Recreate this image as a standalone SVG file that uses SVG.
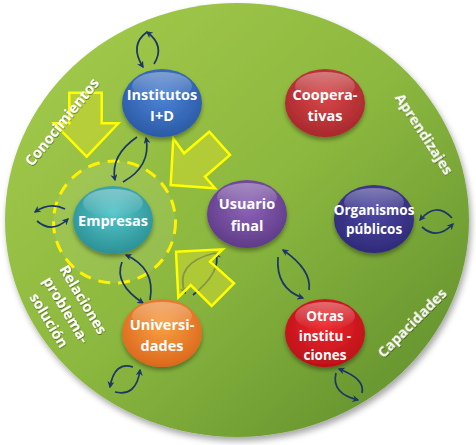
<svg xmlns="http://www.w3.org/2000/svg" width="476" height="445" viewBox="0 0 476 445">
<defs>
<linearGradient id="bg" x1="0" y1="0" x2="1" y2="1">
<stop offset="0" stop-color="#a6cc4c"/>
<stop offset="0.5" stop-color="#8cb83f"/>
<stop offset="1" stop-color="#5b8a2b"/>
</linearGradient>
<radialGradient id="gBlue" cx="0.5" cy="0.4" r="0.6"><stop offset="0" stop-color="#4d84d6"/><stop offset="1" stop-color="#2a5aa6"/></radialGradient>
<radialGradient id="gCoop" cx="0.5" cy="0.4" r="0.6"><stop offset="0" stop-color="#d9474a"/><stop offset="1" stop-color="#a8282c"/></radialGradient>
<radialGradient id="gTeal" cx="0.5" cy="0.4" r="0.6"><stop offset="0" stop-color="#55c6ca"/><stop offset="1" stop-color="#2b9196"/></radialGradient>
<radialGradient id="gPurp" cx="0.5" cy="0.4" r="0.6"><stop offset="0" stop-color="#8d63b8"/><stop offset="1" stop-color="#5f3b88"/></radialGradient>
<radialGradient id="gInd" cx="0.5" cy="0.4" r="0.6"><stop offset="0" stop-color="#4d47a3"/><stop offset="1" stop-color="#2f2a7a"/></radialGradient>
<radialGradient id="gOra" cx="0.5" cy="0.4" r="0.6"><stop offset="0" stop-color="#f8a043"/><stop offset="1" stop-color="#dc681c"/></radialGradient>
<radialGradient id="gRed" cx="0.5" cy="0.4" r="0.6"><stop offset="0" stop-color="#f0282e"/><stop offset="1" stop-color="#bb1018"/></radialGradient>
<linearGradient id="gloss" x1="0" y1="0" x2="0" y2="1">
<stop offset="0" stop-color="#ffffff" stop-opacity="0.35"/>
<stop offset="1" stop-color="#ffffff" stop-opacity="0"/>
</linearGradient>
<filter id="sh" x="-20%" y="-20%" width="140%" height="150%">
<feDropShadow dx="0" dy="3" stdDeviation="2" flood-color="#000" flood-opacity="0.35"/>
</filter>
<filter id="bigsh" x="-5%" y="-5%" width="110%" height="112%">
<feDropShadow dx="2" dy="4" stdDeviation="3" flood-color="#000" flood-opacity="0.35"/>
</filter>
<filter id="tsh" x="-10%" y="-20%" width="120%" height="140%">
<feDropShadow dx="0.5" dy="1" stdDeviation="0.6" flood-color="#000" flood-opacity="0.4"/>
</filter>
<marker id="ah" viewBox="0 0 10 10" refX="8" refY="5" markerWidth="7" markerHeight="7" markerUnits="userSpaceOnUse" orient="auto">
<path d="M0,0 L10,5 L0,10 L3,5 z" fill="#1c3668"/>
</marker>
<style>
.node text{font-family:"Open Sans","Liberation Sans",sans-serif;font-weight:bold;font-size:14.5px;fill:#fff;text-anchor:middle}
.lbl{font-family:"Open Sans","Liberation Sans",sans-serif;font-weight:bold;font-size:14.5px;fill:#fff;text-anchor:middle}
.con path{fill:none;stroke:#1c3668;stroke-width:1.7;marker-end:url(#ah)}
.ya{fill:#c8d630;fill-opacity:0.6;stroke:#ffff00;stroke-width:2.5;stroke-linejoin:miter}
.gl{fill:url(#gloss)}
</style>
</defs>
<rect width="476" height="445" fill="#fff"/>
<ellipse cx="237" cy="220" rx="232" ry="217" fill="url(#bg)" filter="url(#bigsh)"/>
<circle id="empresas-ring" cx="114.5" cy="222" r="61" fill="#ffffff" fill-opacity="0.08" stroke="#fff200" stroke-width="3" stroke-dasharray="12 8"/>
<g id="connectors" class="con">
<path d="M147,32 Q129,45 143,67"/>
<path d="M154,64 Q165.5,46 147,32"/>
<path d="M137,137 Q110,155.5 115,180"/>
<path d="M123,182 Q151.5,166 146,138"/>
<path d="M65,209 Q50,201.5 35,212"/>
<path d="M37,221 Q52,234 68,219"/>
<path d="M122,262 Q113.5,283.5 143,303"/>
<path d="M150,300 Q156,268.5 126,255"/>
<path d="M133,367 Q114.5,361 110,387"/>
<path d="M115,392 Q136.5,397 140,370"/>
<path d="M452,218 Q436,201 420,220"/>
<path d="M422,227 Q437,240.5 453,224"/>
<path d="M278,257 Q275.5,288.5 303,298"/>
<path d="M309,290 Q312,270 283,250"/>
<path d="M336,373 Q331,393.5 358,400"/>
<path d="M362,393 Q365.5,379 339,369"/>
<path d="M215,253 Q174,263 185,293"/>
<path d="M193,295 Q221.5,272 216,253"/>
</g>
<g id="arrows">
<polygon id="arrow-conocimientos" class="ya" points="69.3,92.7 101.7,92.7 101.7,123.3 118.3,123.3 86.7,156.7 54,123.3 69.3,123.3"/>
<polygon id="arrow-usuario" class="ya" points="170.7,185 173.3,138.3 184,153.3 209.3,131.7 230,155 205,176.7 215,188.3"/>
<polygon id="arrow-universidades" class="ya" points="176,251.7 222.7,249.3 210,261.7 234,283.3 211.7,306 190.7,285 178.3,297.3"/>
</g>
<g id="institutos" class="node">
<ellipse cx="162" cy="103" rx="40" ry="34" fill="url(#gBlue)" filter="url(#sh)"/>
<ellipse class="gl" cx="162" cy="86" rx="30" ry="14"/>
<text x="162" y="100">Institutos</text>
<text x="162" y="121">I+D</text>
</g>
<g id="cooperativas" class="node">
<ellipse cx="325" cy="103" rx="40" ry="34" fill="url(#gCoop)" filter="url(#sh)"/>
<ellipse class="gl" cx="325" cy="86" rx="30" ry="14"/>
<text x="325" y="100">Coopera-</text>
<text x="325" y="121">tivas</text>
</g>
<g id="empresas" class="node">
<ellipse cx="113" cy="220" rx="40" ry="34" fill="url(#gTeal)" filter="url(#sh)"/>
<ellipse class="gl" cx="113" cy="203" rx="30" ry="14"/>
<text x="113" y="226">Empresas</text>
</g>
<g id="usuario-final" class="node">
<ellipse cx="247" cy="214" rx="40" ry="34" fill="url(#gPurp)" filter="url(#sh)"/>
<ellipse class="gl" cx="247" cy="197" rx="30" ry="14"/>
<text x="247" y="209">Usuario</text>
<text x="247" y="231">final</text>
</g>
<g id="organismos" class="node">
<ellipse cx="374" cy="219" rx="40" ry="34" fill="url(#gInd)" filter="url(#sh)"/>
<ellipse class="gl" cx="374" cy="202" rx="30" ry="14"/>
<text x="374" y="215" style="font-size:13.5px">Organismos</text>
<text x="374" y="234" style="font-size:13.5px">públicos</text>
</g>
<g id="universidades" class="node">
<ellipse cx="162" cy="333" rx="40" ry="34" fill="url(#gOra)" filter="url(#sh)"/>
<ellipse class="gl" cx="162" cy="316" rx="30" ry="14"/>
<text x="162" y="330">Universi-</text>
<text x="162" y="351">dades</text>
</g>
<g id="otras" class="node">
<ellipse cx="325" cy="333" rx="40" ry="34" fill="url(#gRed)" filter="url(#sh)"/>
<ellipse class="gl" cx="325" cy="316" rx="30" ry="14"/>
<text x="325" y="321" style="font-size:13.5px">Otras</text>
<text x="325" y="341" style="font-size:13.5px">institu -</text>
<text x="325" y="360" style="font-size:13.5px">ciones</text>
</g>
<g id="labels" filter="url(#tsh)">
<text class="lbl" transform="translate(62,122) rotate(-51)" y="5">Conocimientos</text>
<text class="lbl" transform="translate(424,134) rotate(57)" y="5">Aprendizajes</text>
<text class="lbl" transform="translate(412,323) rotate(-45)" y="5">Capacidades</text>
<g transform="translate(66,310) rotate(59)">
<text class="lbl" x="0" y="-15">Relaciones</text>
<text class="lbl" x="0" y="5">problema-</text>
<text class="lbl" x="0" y="25">solución</text>
</g>
</g>
</svg>
